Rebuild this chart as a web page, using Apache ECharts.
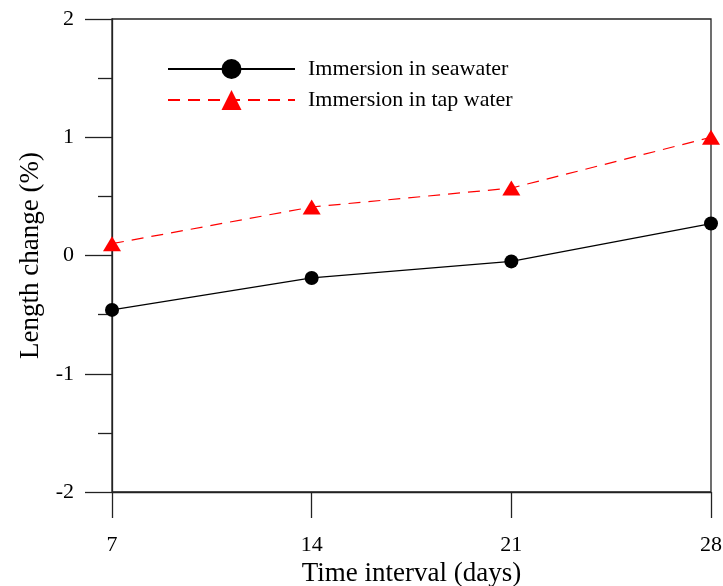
<!DOCTYPE html>
<html>
<head>
<meta charset="utf-8">
<script src="https://cdn.jsdelivr.net/npm/echarts@6/dist/echarts.min.js"></script>
<style>
  html, body { margin: 0; padding: 0; background: #fff; }
  #chart { width: 723px; height: 586px; }
</style>
</head>
<body>
<div id="chart"></div>
<script>
// 数据
const days = [7, 14, 21, 28];
const seawater = [-0.46, -0.19, -0.05, 0.27];
const tapWater = [0.10, 0.41, 0.57, 1.00];
const seriesNames = ['Immersion in seawater', 'Immersion in tap water'];

const font = 'Liberation Serif';
const axisColor = '#222';

const toPoints = (vals) => days.map((d, i) => [d, vals[i]]);

const chart = echarts.init(document.getElementById('chart'));

const option = {
  animation: false,
  textStyle: { fontFamily: font, color: '#000' },
  grid: {
    left: 112, right: 12, top: 19, bottom: 94,
    outerBoundsMode: 'none',
    show: true, borderColor: axisColor, borderWidth: 1.3
  },
  legend: {
    orient: 'vertical',
    left: 162, top: 53,
    itemWidth: 127, itemHeight: 25, itemGap: 9,
    data: seriesNames,
    textStyle: { fontFamily: font, fontSize: 22, color: '#000', padding: [0, 0, 0, 8] }
  },
  xAxis: {
    type: 'value',
    min: 7, max: 28, interval: 7,
    name: 'Time interval (days)',
    nameLocation: 'middle',
    nameGap: 65,
    nameTextStyle: { fontFamily: font, fontSize: 27, color: '#000' },
    axisLine: { onZero: false, lineStyle: { color: axisColor, width: 1.3 } },
    axisTick: { length: 26, lineStyle: { color: axisColor, width: 1.3 } },
    axisLabel: { margin: 42, fontSize: 22, color: '#000', fontFamily: font },
    splitLine: { show: false }
  },
  yAxis: {
    type: 'value',
    min: -2, max: 2, interval: 1,
    name: 'Length change (%)',
    nameLocation: 'middle',
    nameGap: 66,
    nameTextStyle: { fontFamily: font, fontSize: 27, color: '#000' },
    axisLine: { show: true, onZero: false, lineStyle: { color: axisColor, width: 1.3 } },
    axisTick: { show: true, length: 27, lineStyle: { color: axisColor, width: 1.3 } },
    minorTick: { show: true, splitNumber: 2, length: 14, lineStyle: { color: axisColor, width: 1.3 } },
    axisLabel: { margin: 38, fontSize: 22, color: '#000', fontFamily: font },
    splitLine: { show: false }
  },
  series: [
    {
      name: seriesNames[0],
      type: 'line',
      data: toPoints(seawater),
      symbol: 'circle',
      symbolSize: 14,
      clip: false,
      itemStyle: { color: '#000' },
      lineStyle: { color: '#000', width: 1.3 }
    },
    {
      name: seriesNames[1],
      type: 'line',
      data: toPoints(tapWater),
      symbol: 'triangle',
      symbolSize: [18, 15],
      clip: false,
      itemStyle: { color: '#ff0000' },
      lineStyle: { color: '#ff0000', width: 1.2, type: [12, 8] }
    }
  ]
};

chart.setOption(option);
</script>
</body>
</html>
